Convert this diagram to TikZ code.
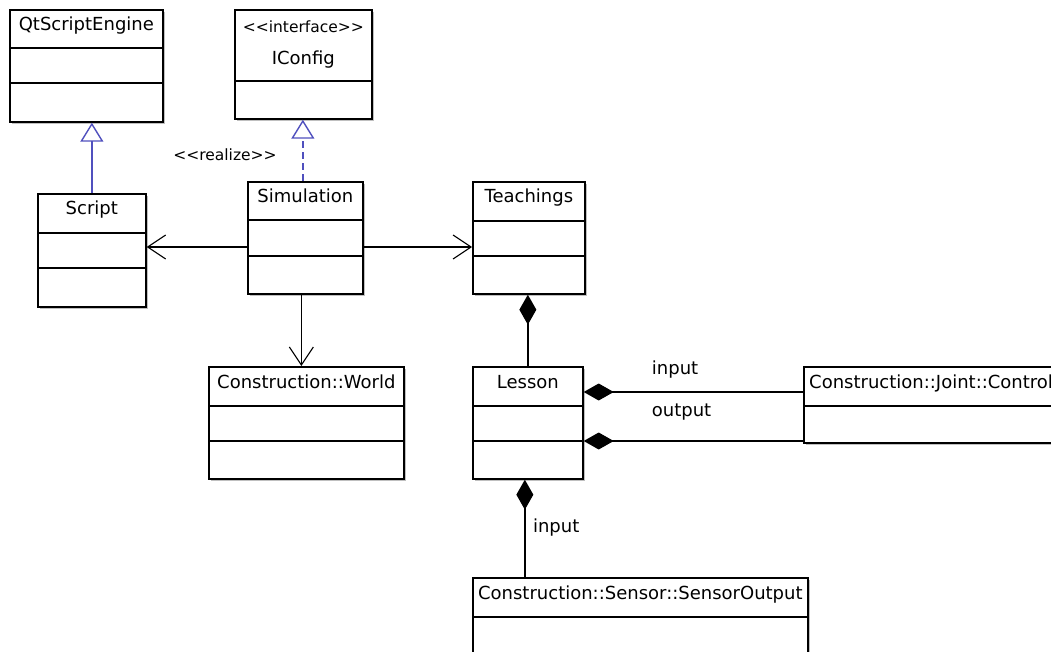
\documentclass[tikz,border=0pt]{standalone}
\usepackage{fontspec}
\setmainfont{DejaVu Sans}
\usetikzlibrary{arrows.meta,calc,shadows}
\definecolor{umlblue}{RGB}{80,80,190}
\newcommand\compartment[2]{\draw[divider] ($(#1.north west)+(0,#2)$) -- ($(#1.north east)+(0,#2)$);}
\newcommand\lt{\char"3C\relax}
\newcommand\gt{\char"3E\relax}
\begin{document}
\begin{tikzpicture}[x=1pt,y=-1pt,
  classbox/.style={draw=black, line width=1.7pt, fill=white, anchor=north west,
    inner sep=0pt, drop shadow={shadow xshift=2pt, shadow yshift=-2pt,
    fill=black!25, opacity=1}},
  divider/.style={draw=black, line width=1.6pt},
  title/.style={anchor=base, inner sep=0pt, font=\fontsize{18}{20}\selectfont},
  stereo/.style={anchor=base, inner sep=0pt, font=\fontsize{15.5}{18}\selectfont},
  role/.style={anchor=base west, inner sep=0pt, font=\fontsize{18}{20}\selectfont},
  gen/.style={draw=umlblue, line width=1.6pt,
    -{Triangle[length=19pt, width=23pt, line width=1.4pt, fill=white]}},
  realization/.style={gen, dash pattern=on 7pt off 4pt},
  assoc/.style={draw=black, line width=1.6pt,
    -{Straight Barb[length=18pt, width=24pt, line width=1.1pt]}},
  comp/.style={draw=black, line width=1.6pt,
    {Diamond[length=30pt, width=17pt, fill=black]}-}]

\useasboundingbox (0,0) rectangle (1051,652);
\clip (0,0) rectangle (1051,652);

% classes
\node[classbox, minimum width=153pt, minimum height=112pt] (qt) at (9,9) {};
\compartment{qt}{39}\compartment{qt}{74}
\node[title] (qt-t) at ($(qt.north)+(0,22)$) {QtScriptEngine};

\node[classbox, minimum width=137pt, minimum height=109pt] (iconfig) at (234,9) {};
\compartment{iconfig}{72}
\node[stereo] (iconfig-s) at ($(iconfig.north)+(0,24)$) {\lt\lt interface\gt\gt};
\node[title] (iconfig-t) at ($(iconfig.north)+(0,56)$) {IConfig};

\node[classbox, minimum width=108pt, minimum height=113pt] (script) at (37,193) {};
\compartment{script}{40}\compartment{script}{75}
\node[title] (script-t) at ($(script.north)+(0,22)$) {Script};

\node[classbox, minimum width=115pt, minimum height=112pt] (sim) at (247,181) {};
\compartment{sim}{39}\compartment{sim}{75}
\node[title] (sim-t) at ($(sim.north)+(0,22)$) {Simulation};

\node[classbox, minimum width=112pt, minimum height=112pt] (teach) at (472,181) {};
\compartment{teach}{40}\compartment{teach}{75}
\node[title] (teach-t) at ($(teach.north)+(0,22)$) {Teachings};

\node[classbox, minimum width=195pt, minimum height=112pt] (world) at (208,366) {};
\compartment{world}{40}\compartment{world}{75}
\node[title] (world-t) at ($(world.north)+(0,22)$) {Construction::World};

\node[classbox, minimum width=110pt, minimum height=112pt] (lesson) at (472,366) {};
\compartment{lesson}{40}\compartment{lesson}{75}
\node[title] (lesson-t) at ($(lesson.north)+(0,22)$) {Lesson};

\node[classbox, minimum width=300pt, minimum height=76pt] (ctrl) at (803,366) {};
\compartment{ctrl}{40}
\node[title, anchor=base west] (ctrl-t) at ($(ctrl.north west)+(6,22)$) {Construction::Joint::Control};

\node[classbox, minimum width=335pt, minimum height=110pt] (sensor) at (472,577) {};
\compartment{sensor}{40}
\node[title] (sensor-t) at ($(sensor.north)+(0,22)$) {Construction::Sensor::SensorOutput};

% generalization and realization
\draw[gen] (script.north) -- (script.north |- qt.south);
\coordinate (r1) at ($(iconfig.south)+(-0.5,0)$);
\draw[realization] (sim.north -| r1) -- (r1);
\node[stereo] (realize) at ($(sim.north west)+(-22,-20)$) {\lt\lt realize\gt\gt};

% navigable associations from Simulation
\coordinate (s1) at ($(sim.north west)+(0,66)$);
\draw[assoc] (s1) -- (script.east |- s1);
\draw[assoc] (sim.east |- s1) -- (teach.west |- s1);
\coordinate (s2) at ($(sim.south)+(-4,0)$);
\draw[assoc] (s2) -- (s2 |- world.north);

% compositions
\draw[comp] (teach.south -| lesson.north) -- (lesson.north);
\coordinate (l1) at ($(lesson.north east)+(0,26)$);
\coordinate (l2) at ($(lesson.north east)+(0,75)$);
\draw[comp] (l1) -- (l1 -| ctrl.west);
\draw[comp] (l2) -- (l2 -| ctrl.west);
\coordinate (l3) at ($(lesson.south)+(-3,0)$);
\draw[comp] (l3) -- (l3 |- sensor.north);

% role names
\node[role] (in1) at ($(l1)+(68,-18)$) {input};
\node[role] (out1) at ($(l2)+(68,-25)$) {output};
\node[role] (in2) at ($(l3)+(8,53)$) {input};
\end{tikzpicture}
\end{document}
